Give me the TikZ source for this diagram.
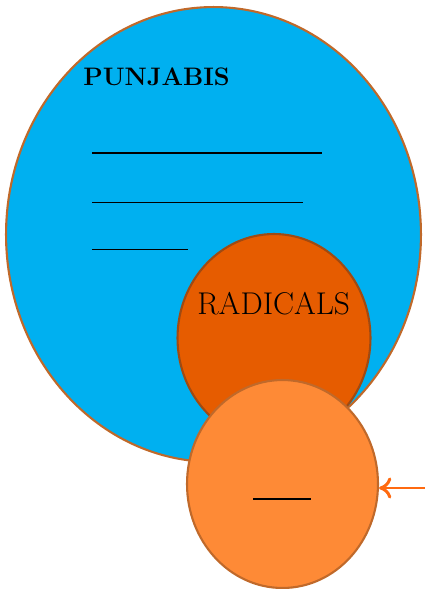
\documentclass[tikz,border=0pt]{standalone}
\usepackage{tikz}
\usetikzlibrary{shapes.geometric,positioning,arrows.meta}
\definecolor{skyblue}{HTML}{00B0F0}
\definecolor{rimbrown}{HTML}{C0692A}
\definecolor{darkrim}{HTML}{A04A12}
\definecolor{burnt}{HTML}{E65C00}
\definecolor{paleorange}{HTML}{FE8A36}
\definecolor{arroworange}{HTML}{FF6A10}

\begin{document}
\begin{tikzpicture}[x=0.02cm,y=-0.02cm,
  blob/.style={ellipse,inner sep=0pt,line width=1.2pt},
  label/.style={inner sep=0pt,anchor=base west},
  blank/.style={black}]
  \useasboundingbox (0,0) rectangle (425,589);
  % sets
  \node[blob,draw=rimbrown,fill=skyblue,minimum width=8.3cm,minimum height=9.1cm] (punj) at (213.5,234.5) {};
  \node[blob,draw=darkrim,fill=burnt,minimum width=3.86cm,minimum height=4.16cm] (rad) at (274,338) {};
  \node[blob,draw=rimbrown,fill=paleorange,minimum width=3.82cm,minimum height=4.16cm] (low) at (282.5,484) {};
  % texts
  \node[label] (punjtext) at (83,85) {\fontsize{14.4}{17}\selectfont\bfseries PUNJABIS};
  \node[label] (radtext) at (197,314) {\fontsize{17.9}{21}\selectfont RADICALS};
  % blanks
  \draw[blank,line width=1.2pt] (92,153) -- (322,153);
  \draw[blank,line width=0.55pt] (92,202) -- (303,202);
  \draw[blank,line width=0.55pt] (92,249) -- (188,249);
  \draw[blank,line width=1.2pt] (253,499) -- (311,499);
  % pointer
  \coordinate (tail) at (425,488);
  \draw[arroworange,line width=1.7pt,-{To[length=7pt,width=12pt]}] (tail) -- (tail -| low.east);
\end{tikzpicture}
\end{document}
